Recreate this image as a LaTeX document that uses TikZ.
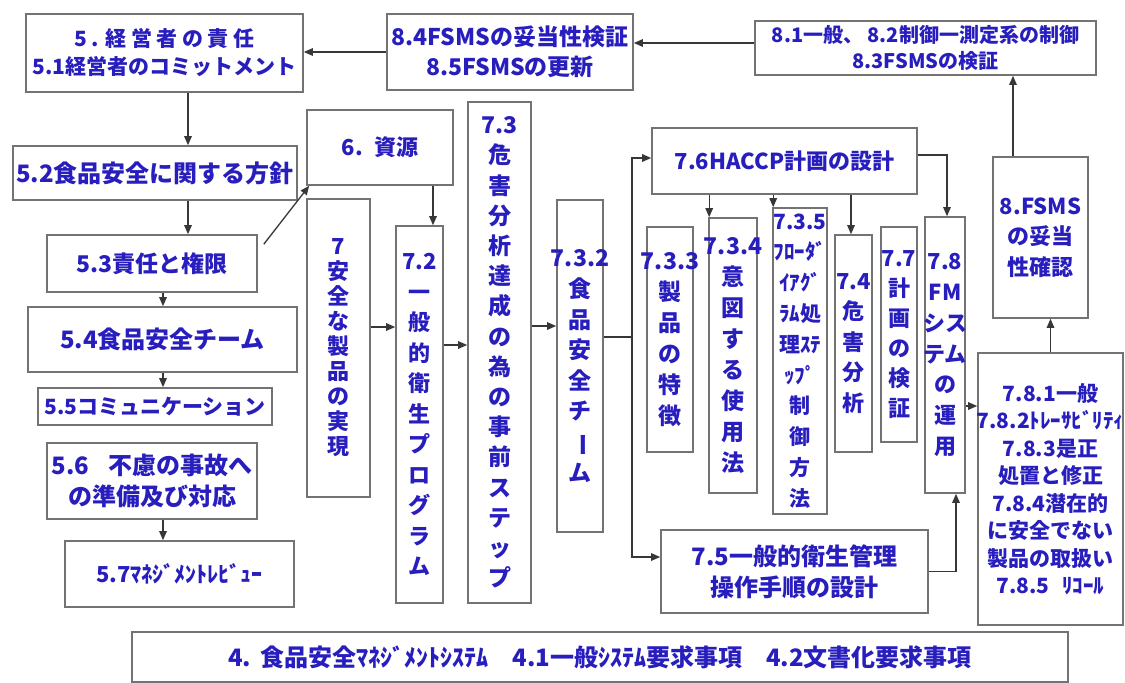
\documentclass[tikz,border=0pt]{standalone}
\usepackage{fontspec}
\usepackage{graphicx}
\setmainfont{Noto Sans CJK JP}
\usetikzlibrary{arrows.meta}
\definecolor{txt}{RGB}{40,30,190}
\definecolor{frame}{RGB}{115,115,115}
\definecolor{conn}{RGB}{55,55,55}
\newcommand{\fs}[2]{\fontsize{#1}{#2}\selectfont}
\newcommand{\vbar}{\rotatebox[origin=c]{-90}{ー}}
\newcommand{\z}[1]{\makebox[0pt]{#1}}
\newcommand{\bx}[7]{\node[box, minimum width={(#4-#2)*1pt}, minimum height={(#5-#3)*1pt}, font=\bfseries#6] (#1) at ({(#2+#4)/2},{(#3+#5)/2}) {#7};}
\begin{document}
\begin{tikzpicture}[x=1pt,y=-1pt,
  box/.style={draw=frame, line width=1.6pt, inner sep=0pt, text=txt, align=center, fill=white},
  arr/.style={draw=conn, line width=1.3pt, -{Triangle[length=9pt,width=7.5pt]}},
  ln/.style={draw=conn, line width=1.3pt}]
\useasboundingbox (0,0) rectangle (1125,683);
\fill[white] (0,0) rectangle (1125,683);
% boxes
\bx{b5}{26}{14}{303}{92}{\fs{21}{28}}{{\addfontfeature{LetterSpace=22}5.\hspace{0.3em}経営者の責任}\\5.1経営者のコミットメント}
\bx{b84}{387}{14}{633}{90}{\fs{23}{30}}{8.4FSMSの妥当性検証\\8.5FSMSの更新}
\bx{b81}{755}{21}{1096}{75}{\fs{20}{26}}{8.1一般、 8.2制御一測定系の制御\\8.3FSMSの検証}
\bx{b52}{13}{146}{297}{200}{\fs{24}{30}}{5.2食品安全に関する方針}
\bx{b6}{307}{110}{453}{185}{\fs{22}{26}}{6.\hspace{0.5em}資源}
\bx{b53}{47}{235}{257}{292}{\fs{23}{28}}{5.3責任と権限}
\bx{b54}{28}{307}{297}{372}{\fs{24}{28}}{5.4食品安全チーム}
\bx{b55}{38}{388}{272}{425}{\fs{21}{24}}{5.5コミュニケーション}
\bx{b56}{47}{443}{257}{519}{\fs{24}{31}}{5.6\hspace{0.8em}不慮の事故へ\\の準備及び対応}
\bx{b57}{65}{541}{294}{607}{\fs{22}{26}}{5.7ﾏﾈｼﾞﾒﾝﾄﾚﾋﾞｭｰ}
\bx{b7}{307}{199}{370}{497}{\fs{22}{25}}{7\\安\\全\\な\\製\\品\\の\\実\\現}
\bx{b72}{396}{226}{443}{603}{\fs{22}{30.5}}{7.2\\一\\般\\的\\衛\\生\\プ\\ロ\\グ\\ラ\\ム}
\bx{b73}{468}{102}{531}{603}{\fs{23}{30.2}}{7.3\\危\\害\\分\\析\\達\\成\\の\\為\\の\\事\\前\\ス\\テ\\ッ\\プ}
\bx{b732}{557}{200}{603}{532}{\fs{23}{30.6}}{\z{7.3.2}\\食\\品\\安\\全\\チ\\\vbar\\ム}
\bx{b76}{652}{128}{917}{194}{\fs{22}{26}}{7.6HACCP計画の設計}
\bx{b733}{647}{227}{693}{452}{\fs{23}{31}}{\z{7.3.3}\\製\\品\\の\\特\\徴}
\bx{b734}{709}{218}{757}{493}{\fs{23}{31}}{\z{7.3.4}\\意\\図\\す\\る\\使\\用\\法}
\bx{b735}{773}{208}{827}{514}{\fs{21}{30.8}}{\z{7.3.5}\\\z{ﾌﾛｰﾀﾞ}\\\z{ｲｱｸﾞ}\\\z{ﾗﾑ処}\\\z{理ｽﾃ}\\ｯﾌﾟ\\制\\御\\方\\法}
\bx{b74}{835}{235}{872}{452}{\fs{22}{30.5}}{\z{7.4}\\危\\害\\分\\析}
\bx{b77}{881}{227}{917}{442}{\fs{22}{30}}{\z{7.7}\\計\\画\\の\\検\\証}
\bx{b78}{925}{217}{965}{493}{\fs{22}{30.7}}{\z{7.8}\\\z{FM}\\\z{シス}\\\z{テム}\\の\\運\\用}
\bx{b8}{993}{157}{1088}{318}{\fs{22}{30.5}}{8.FSMS\\の妥当\\性確認}
\bx{b781}{978}{353}{1123}{625}{\fs{21}{27.5}}{7.8.1一般\\\z{7.8.2ﾄﾚｰｻﾋﾞﾘﾃｨ}\\7.8.3是正\\処置と修正\\7.8.4潜在的\\に安全でない\\製品の取扱い\\7.8.5\hspace{0.6em}ﾘｺｰﾙ}
\bx{b75}{661}{530}{928}{613}{\fs{24}{31}}{7.5一般的衛生管理\\操作手順の設計}
\bx{b4}{132}{632}{1068}{682}{\fs{24}{28}}{4.\hspace{0.4em}食品安全ﾏﾈｼﾞﾒﾝﾄｼｽﾃﾑ\hspace{1em}4.1一般ｼｽﾃﾑ要求事項\hspace{1em}4.2文書化要求事項}
% connectors
\coordinate (spine) at (632,337);
\draw[arr] (b84.west) -- (b84.west -| b5.east);
\draw[arr] ([yshift=5pt]b81.west) -- ([yshift=5pt]b81.west -| b84.east);
\draw[arr] ([xshift=-27.5pt]b8.north) -- ([xshift=-27.5pt]b8.north |- b81.south);
\draw[arr] ([xshift=23.5pt]b5.south) -- ([xshift=23.5pt]b5.south |- b52.north);
\draw[arr] ([xshift=33pt]b52.south) -- ([xshift=33pt]b52.south |- b53.north);
\draw[arr] ([xshift=11pt]b53.south) -- ([xshift=11pt]b53.south |- b54.north);
\draw[arr] ([xshift=0.5pt]b54.south) -- ([xshift=0.5pt]b54.south |- b55.north);
\draw[arr] ([xshift=11pt]b56.south) -- ([xshift=11pt]b56.south |- b57.north);
\draw[arr] ([xshift=6pt,yshift=-10pt]b53.north east) -- ([xshift=3pt]b6.south west);
\draw[arr] ([xshift=53pt]b6.south) -- ([xshift=53pt]b6.south |- b72.north);
\draw[arr] ([yshift=21pt]b7.east) -- ([yshift=21pt]b7.east -| b72.west);
\draw[arr] ([yshift=69.5pt]b72.east) -- ([yshift=69.5pt]b72.east -| b73.west);
\draw[arr] ([yshift=26.5pt]b73.east) -- ([yshift=26.5pt]b73.east -| b732.west);
\draw[ln] ([yshift=29pt]b732.east) -- (spine);
\draw[arr] (spine) |- ([yshift=3pt]b76.west);
\draw[arr] (spine) |- ([yshift=14.5pt]b75.west);
\draw[arr] ([xshift=1pt]b76.south -| b734.north west) -- ([xshift=1pt]b734.north west);
\draw[arr] ([xshift=1pt]b76.south -| b735.north west) -- ([xshift=1pt]b735.north west);
\draw[arr] ([xshift=-2.5pt]b76.south -| b74.north) -- ([xshift=-2.5pt]b74.north);
\draw[arr] ([yshift=6pt]b76.east) -| ([xshift=2pt]b78.north);
\draw[arr] (b75.east) -| ([xshift=11pt]b78.south);
\draw[arr] ([yshift=-51pt]b78.east) -- ([yshift=-51pt]b78.east -| b781.west);
\draw[arr] (b781.north) -- (b781.north |- b8.south);
\end{tikzpicture}
\end{document}
